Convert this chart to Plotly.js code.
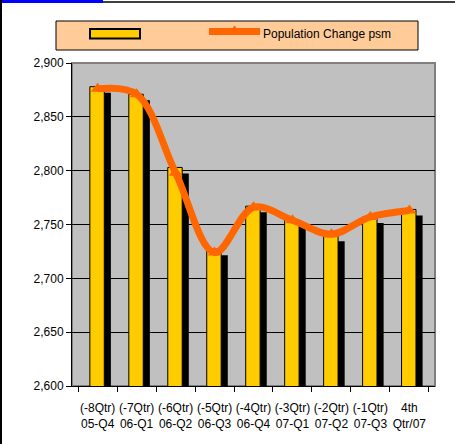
<!DOCTYPE html>
<html>
<head>
<meta charset="utf-8">
<script src="https://cdn.plot.ly/plotly-3.0.1.min.js"></script>
<style>
  html, body { margin: 0; padding: 0; background: #fff; }
  #wrap { position: relative; width: 455px; height: 444px; overflow: hidden; }
  #chart { position: absolute; left: 0; top: 0; width: 455px; height: 444px; }
  .deco { position: absolute; z-index: 10; }
</style>
</head>
<body>
<div id="wrap">
  <div id="chart"></div>
  <div class="deco" style="left:0;top:1px;width:455px;height:2px;background:#404040;"></div>
  <div class="deco" style="left:0;top:0;width:103px;height:3px;background:#0000FF;"></div>
  <div class="deco" style="left:0;top:0;width:2px;height:444px;background:#000;"></div>
</div>
<script>
// ---- data ----
const qtrLabels = ["(-8Qtr)", "(-7Qtr)", "(-6Qtr)", "(-5Qtr)", "(-4Qtr)", "(-3Qtr)", "(-2Qtr)", "(-1Qtr)", "4th"];
const periodLabels = ["05-Q4", "06-Q1", "06-Q2", "06-Q3", "06-Q4", "07-Q1", "07-Q2", "07-Q3", "Qtr/07"];
const barValues = [2878, 2871, 2803, 2727, 2767, 2754, 2740, 2757, 2764];
const lineValues = [2876, 2871, 2798, 2724, 2766, 2754, 2741, 2757, 2763];
const lineName = "Population Change psm";
const yTicks = [2600, 2650, 2700, 2750, 2800, 2850, 2900];

// ---- layout constants ----
const W = 455, H = 444;
const M = {l: 72, r: 20, t: 63, b: 58};
const plotW = W - M.l - M.r, plotH = H - M.t - M.b;
const yMin = 2600, yMax = 2900;
const shadowDrop = 6 * (yMax - yMin) / plotH; // shadow offset of ~6px, in data units

const cats = qtrLabels.map((q, i) => q + "<br>" + periodLabels[i]);

function px(x) { return (x - M.l) / plotW; }
function py(y) { return (H - M.b - y) / plotH; }

const shadow = {
  type: "bar", x: cats, y: barValues.map(v => v - shadowDrop),
  width: 0.38, offset: -0.04,
  marker: {color: "#000000", line: {width: 0}},
  hoverinfo: "skip", showlegend: false
};
const bars = {
  type: "bar", x: cats, y: barValues,
  width: 0.37, offset: -0.2,
  marker: {color: "#FFCC00", line: {color: "#000000", width: 1}},
  showlegend: false
};
const line = {
  type: "scatter", mode: "lines+markers", x: cats, y: lineValues, name: lineName,
  line: {color: "#FF6600", width: 7, shape: "spline", smoothing: 1},
  marker: {symbol: "triangle-up", size: 12, color: "#FF6600"},
  showlegend: false, cliponaxis: false
};

// legend drawn as paper shapes
const tri = [[229, 34], [234.5, 26], [240, 34]].map(p => [px(p[0]), py(p[1])]);
const shapes = [
  {type: "rect", xref: "paper", yref: "paper", x0: 0, x1: 1, y0: 0, y1: 1,
   line: {color: "#808080", width: 2}, fillcolor: "rgba(0,0,0,0)", layer: "below"},
  {type: "rect", xref: "paper", yref: "paper", x0: px(56), x1: px(418), y0: py(50), y1: py(21),
   line: {color: "#000000", width: 1}, fillcolor: "#FFCC99"},
  {type: "rect", xref: "paper", yref: "paper", x0: px(90), x1: px(140), y0: py(38.5), y1: py(29),
   line: {color: "#000000", width: 2}, fillcolor: "#FFCC00"},
  {type: "line", xref: "paper", yref: "paper", x0: px(209), x1: px(260), y0: py(31.5), y1: py(31.5),
   line: {color: "#FF6600", width: 7}},
  {type: "path", xref: "paper", yref: "paper",
   path: "M " + tri[0][0] + "," + tri[0][1] + " L " + tri[1][0] + "," + tri[1][1] + " L " + tri[2][0] + "," + tri[2][1] + " Z",
   line: {color: "#FF6600", width: 1}, fillcolor: "#FF6600"}
];

const layout = {
  width: W, height: H,
  margin: M,
  paper_bgcolor: "rgba(0,0,0,0)",
  plot_bgcolor: "#C0C0C0",
  font: {family: "Liberation Sans, Arial, sans-serif", size: 12, color: "#000"},
  barmode: "overlay",
  showlegend: false,
  xaxis: {
    type: "category", tickson: "boundaries", tickangle: 0, ticklabelstandoff: 11,
    ticks: "outside", ticklen: 5, tickcolor: "#000", tickwidth: 1,
    showline: true, linecolor: "#000", linewidth: 1,
    showgrid: false, tickfont: {size: 12}, fixedrange: true
  },
  yaxis: {
    range: [yMin, yMax], tickvals: yTicks, tickformat: ",d",
    ticks: "outside", ticklen: 5, tickcolor: "#000", tickwidth: 1,
    showline: true, linecolor: "#000", linewidth: 1,
    showgrid: true, gridcolor: "#000", gridwidth: 1,
    zeroline: false, tickfont: {size: 12}, fixedrange: true
  },
  shapes: shapes,
  annotations: [{
    xref: "paper", yref: "paper", x: px(261), y: py(34), xanchor: "left", yanchor: "middle",
    text: lineName, showarrow: false, font: {size: 12, color: "#000"}
  }]
};

Plotly.newPlot("chart", [shadow, bars, line], layout, {displayModeBar: false, staticPlot: true});
</script>
</body>
</html>
